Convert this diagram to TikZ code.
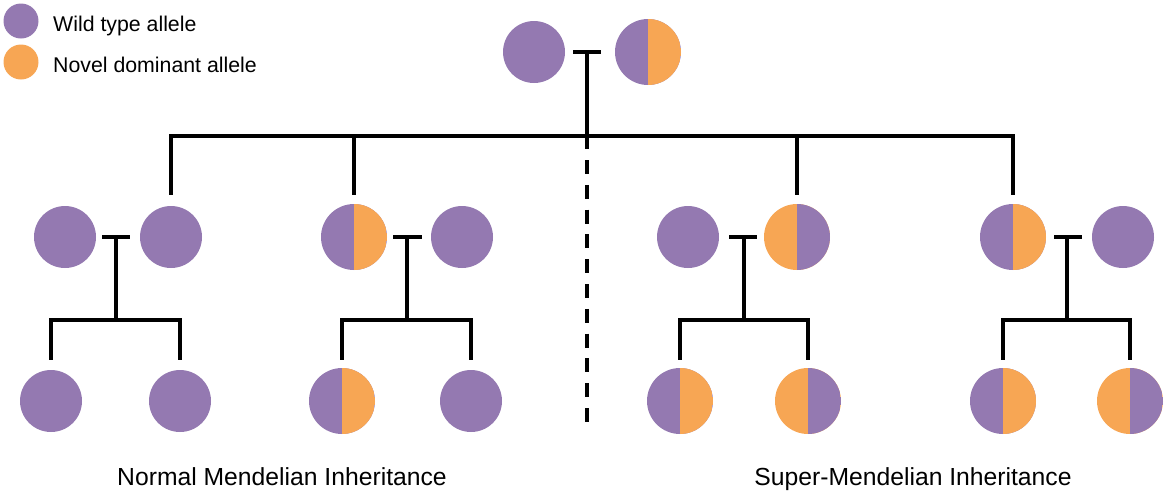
\documentclass[tikz,border=0pt]{standalone}
\usepackage{fontspec}
\setmainfont{Liberation Sans}
\definecolor{wtc}{RGB}{148,121,177}
\definecolor{ndc}{RGB}{247,166,84}
\tikzset{
  wt/.style={circle, fill=wtc, inner sep=0pt, minimum size=62pt},
  hetpo/.style={circle, fill=wtc, inner sep=0pt, minimum size=66pt,
    path picture={\fill[ndc] (path picture bounding box.north) rectangle (path picture bounding box.south east);}},
  hetop/.style={circle, fill=ndc, inner sep=0pt, minimum size=66pt,
    path picture={\fill[wtc] (path picture bounding box.north) rectangle (path picture bounding box.south east);}},
  leg/.style={circle, inner sep=0pt, minimum size=35pt},
  ln/.style={line width=3.2pt, black},
  legtxt/.style={anchor=base west, inner sep=0pt, font=\fontsize{21.3}{26}\selectfont},
  captxt/.style={anchor=base, inner sep=0pt, font=\fontsize{24.7}{28}\selectfont},
}
\begin{document}
\begin{tikzpicture}[x=1pt,y=-1pt]
\useasboundingbox (0,0) rectangle (1165,491);
% legend
\node[leg, fill=wtc] (lg1) at (21,21) {};
\node[leg, fill=ndc] (lg2) at (21,62) {};
\node[legtxt] (lt1) at (53,31) {Wild type allele};
\node[legtxt] (lt2) at (53,72) {Novel dominant allele};
% top generation
\node[wt] (g0a) at (534,52) {};
\node[hetpo] (g0b) at (648,52) {};
\coordinate (b0l) at (573,52);
\coordinate (b0r) at (601,52);
\coordinate (b0m) at (587,52);
\coordinate (hub) at (587,136);
\coordinate (hubend) at (587,149);
\coordinate (dashA) at (587,160);
\coordinate (dashB) at (587,422);
\draw[ln] (b0l) -- (b0r);
\draw[ln] (b0m) -- (hubend);
\draw[ln, dash pattern=on 14pt off 10.8pt] (dashA) -- (dashB);
% second generation
\node[wt] (f1a) at (65,237) {};
\node[wt] (f1b) at (171,237) {};
\node[hetpo] (f2a) at (354,237) {};
\node[wt] (f2b) at (462,237) {};
\node[wt] (f3a) at (688,237) {};
\node[hetop] (f3b) at (797,237) {};
\node[hetpo] (f4a) at (1013,237) {};
\node[wt] (f4b) at (1123,237) {};
\draw[ln] ([yshift=11pt]f1b.north) |- (hub) -| ([yshift=9pt]f4a.north);
\draw[ln] (f2a.north |- hub) -- ([yshift=9pt]f2a.north);
\draw[ln] (f3b.north |- hub) -- ([yshift=9pt]f3b.north);
% third generation
\node[wt] (c1a) at (51,401) {};
\node[wt] (c1b) at (180,401) {};
\node[hetpo] (c2a) at (342,401) {};
\node[wt] (c2b) at (471,401) {};
\node[hetpo] (c3a) at (680,401) {};
\node[hetop] (c3b) at (808,401) {};
\node[hetpo] (c4a) at (1003,401) {};
\node[hetop] (c4b) at (1130,401) {};
% family 1
\coordinate (m1l) at (102,237); \coordinate (m1r) at (130,237);
\coordinate (m1) at (116,237); \coordinate (h1) at (116,320);
\draw[ln] (m1l) -- (m1r);
\draw[ln] (m1) -- (h1);
\draw[ln] ([yshift=10pt]c1a.north) |- (h1) -| ([yshift=10pt]c1b.north);
% family 2
\coordinate (m2l) at (393,237); \coordinate (m2r) at (422,237);
\coordinate (m2) at (407,237); \coordinate (h2) at (407,320);
\draw[ln] (m2l) -- (m2r);
\draw[ln] (m2) -- (h2);
\draw[ln] ([yshift=8pt]c2a.north) |- (h2) -| ([yshift=10pt]c2b.north);
% family 3
\coordinate (m3l) at (729,237); \coordinate (m3r) at (757,237);
\coordinate (m3) at (744,237); \coordinate (h3) at (744,320);
\draw[ln] (m3l) -- (m3r);
\draw[ln] (m3) -- (h3);
\draw[ln] ([yshift=8pt]c3a.north) |- (h3) -| ([yshift=8pt]c3b.north);
% family 4
\coordinate (m4l) at (1054,237); \coordinate (m4r) at (1082,237);
\coordinate (m4) at (1067,237); \coordinate (h4) at (1067,320);
\draw[ln] (m4l) -- (m4r);
\draw[ln] (m4) -- (h4);
\draw[ln] ([yshift=8pt]c4a.north) |- (h4) -| ([yshift=8pt]c4b.north);
% captions
\node[captxt] (cap1) at (282,485) {Normal Mendelian Inheritance};
\node[captxt] (cap2) at (913,485) {Super-Mendelian Inheritance};
\end{tikzpicture}
\end{document}
